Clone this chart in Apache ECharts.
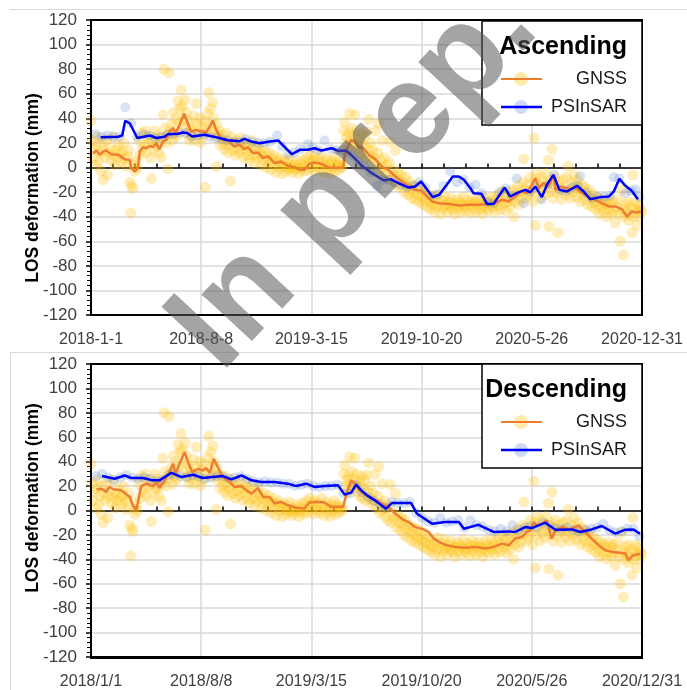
<!DOCTYPE html>
<html><head><meta charset="utf-8">
<script src="https://cdn.jsdelivr.net/npm/echarts@6/dist/echarts.min.js"></script>
<style>html,body{margin:0;padding:0;background:#fff}#c{width:687px;height:690px}</style>
</head><body><div id="c"></div>
<script>
// x positions are days since 2018-01-01
const xLabelsA = ['2018-1-1','2018-8-8','2019-3-15','2019-10-20','2020-5-26','2020-12-31'];
const xLabelsD = ['2018/1/1','2018/8/8','2019/3/15','2019/10/20','2020/5/26','2020/12/31'];
const yTicks = [-120,-100,-80,-60,-40,-20,0,20,40,60,80,100,120];
const panelTitles = ['Ascending','Descending'];
const seriesNames = ['GNSS','PSInSAR'];
const yTitle = 'LOS deformation (mm)';
const watermark = 'In prep.';

// GNSS daily observations [day, mm]
const gnssPts = [[0,38],[2,22],[4,8],[6,15],[9,2],[11,18],[13,25],[15,5],[18,12],[20,-3],[22,20],[24,-10],[26,14],[28,8],[31,22],[33,-6],[35,12],[38,16],[40,6],[43,25],[45,10],[48,2],[50,14],[53,8],[55,18],[58,11],[60,4],[63,13],[65,20],[68,7],[70,1],[73,9],[75,14],[77,-12],[79,-37],[81,-15],[83,-17],[85,2],[87,-3],[90,5],[92,0],
[95,22],[97,10],[100,28],[102,15],[105,18],[108,30],[110,12],[112,25],[115,20],[118,8],[120,-9],[122,22],[125,15],[127,30],[130,18],[132,26],[135,12],[137,20],[140,8],[142,24],[143,43],[145,80],[147,32],[150,20],[152,26],[153,-1],[155,77],
[157,30],[160,35],[162,22],[164,45],[166,28],[168,40],[170,25],[173,54],[175,36],[177,48],[179,63],[181,50],[183,40],[185,32],[187,55],[189,45],[191,28],[193,38],[195,22],[197,34],[199,26],[201,30],[204,42],[206,22],[209,52],[211,35],[213,28],[216,40],[218,20],[220,33],[222,25],[225,38],[227,-16],[229,30],[232,44],[234,61],[236,35],[238,48],[240,28],[242,53],[244,40],[246,30],[249,1],[250,35],[252,25],[255,30],[257,18],
[260,26],[263,20],[265,15],[268,28],[270,22],[272,12],[275,18],[277,-11],[279,25],[282,14],[284,20],[287,10],[290,22],[292,16],[295,12],[297,24],[300,18],[303,8],[305,15],[308,20],[310,10],[313,18],[315,6],[318,14],[320,22],[323,10],[325,4],[328,15],[330,8],[333,18],[335,12],[338,2],[340,10],[343,6],[345,14],[348,0],[350,8],[353,12],[355,4],[358,-2],[360,7],[363,10],[365,2],[368,-4],[370,5],[373,8],[375,0],[378,3],[380,-5],[383,6],[385,1],[388,-3],[390,4],[393,-1],[395,7],[398,0],
[400,-4],[403,2],[405,-2],[408,5],[410,0],[413,-5],[415,3],[418,-1],[420,6],[423,-3],[425,2],[428,8],[430,-2],[433,4],[435,10],[438,1],[440,6],[443,-3],[445,8],[448,3],[450,0],[453,6],[455,-2],[458,10],[460,4],[463,-4],[465,2],[468,7],[470,-1],[473,3],[475,-5],[478,5],[480,0],[483,8],[485,-3],[488,2],[490,5],[493,-2],[495,3],[498,0],
[500,2],[502,30],[504,37],[506,20],[508,25],[510,15],[512,28],[514,44],[516,22],[518,32],[520,18],[522,26],[524,43],[526,20],[528,30],[530,15],[532,24],[534,12],[536,20],[538,28],[540,10],[542,18],[544,25],[546,8],[548,29],[550,15],[552,39],[554,10],[556,20],[558,5],[560,14],[562,8],[565,30],[567,2],[570,12],[572,36],[574,-2],[576,6],[578,22],[580,0],
[583,8],[585,-5],[588,2],[590,-8],[593,4],[595,21],[597,-10],[600,-2],[602,-6],[605,14],[607,-14],[610,-4],[612,-10],[615,-16],[617,-6],[620,-12],[622,-20],[625,-8],[627,-15],[630,-22],[632,-12],[635,-18],[637,-25],[640,-14],[642,-20],[645,-26],[647,-15],[650,-22],[652,-28],[655,-18],[657,-24],[660,-30],[662,-20],[665,-26],[668,-32],[670,-22],[673,-28],[675,-34],[678,-24],
[680,-30],[683,-36],[685,-26],[688,-32],[690,-22],[693,-30],[695,-38],[698,-27],[700,-33],[703,-24],[705,-31],[708,-36],[710,-28],[713,-32],[715,-25],[718,-34],[720,-29],[723,-38],[725,-30],[728,-26],[730,-33],[733,-28],[735,-36],[738,-30],[740,-24],[743,-32],[745,-35],[748,-27],[750,-31],[753,-37],[755,-29],[758,-25],[760,-33],[763,-28],[765,-36],[768,-30],[770,-26],[773,-34],[775,-29],[778,-38],[780,-31],[783,-25],[785,-33],[788,-28],[790,-35],[793,-30],[795,-24],[798,-32],
[800,-28],[803,-36],[805,-25],[808,-31],[810,-22],[813,-34],[815,-27],[818,-20],[820,-30],[823,-24],[825,-35],[828,-28],[830,-20],[833,-32],[835,-25],[838,-18],[840,-40],[842,-28],[845,-22],[848,-15],[850,-30],[853,-20],[855,-26],[858,-12],[860,7],[862,-18],[865,-25],[868,-14],[870,-22],[873,-8],[875,-18],[878,-28],[880,24],[882,-10],[883,-47],[885,-20],[887,-5],[890,-15],[892,-25],[895,-8],[897,-18],[900,-12],
[902,-22],[905,-5],[907,-15],[909,6],[910,-48],[912,-20],[915,-10],[916,15],[918,-25],[920,-14],[923,-8],[925,-20],[928,-53],[930,-12],[933,-18],[935,-26],[938,-10],[940,-16],[943,-22],[945,-8],[948,1],[950,-18],[953,-25],[955,-12],[958,-20],[960,-6],[962,-15],[965,-24],[967,-10],[970,-18],[972,-28],[975,-14],[977,-22],[980,-16],[982,-26],[985,-20],[987,-30],[990,-18],[993,-25],[995,-32],
[998,-22],[1000,-28],[1003,-34],[1005,-24],[1008,-30],[1010,-38],[1013,-26],[1015,-33],[1018,-28],[1020,-36],[1023,-30],[1025,-40],[1028,-26],[1030,-34],[1033,-30],[1035,-38],[1038,-28],[1040,-35],[1042,-45],[1045,-32],[1047,-26],[1050,-38],[1052,-60],[1055,-18],[1057,-34],[1058,-71],[1060,-40],[1062,-30],[1065,-36],[1067,-28],[1068,-43],[1070,-38],[1072,-32],[1075,-53],[1077,-6],[1078,-40],[1080,-34],[1082,-28],[1085,-47],[1087,-36],[1088,-30],[1090,-40],[1092,-34],[1094,-36]];

// GNSS smoothed lines
const gnssLineA = [[4,11.7],[11,13.8],[17,10.3],[24,13],[30,13.8],[40,10.8],[54,10.3],[67,6.8],[77,6.2],[80,-0.5],[87,-3.3],[93,-0.5],[97,13],[103,16.5],[110,15.7],[117,17.6],[123,16.5],[130,19.8],[136,14.9],[143,21.2],[150,22.5],[156,29.3],[163,32],[168,28],[176,34.7],[185,43.7],[191,37.4],[199,29.3],[209,30.6],[219,29.3],[229,28.5],[234,32],[242,38.2],[249,30.6],[259,23],[272,22],[285,17],[295,18.4],[305,14.9],[312,16.5],[322,11.7],[332,12.2],[342,7.6],[352,9],[365,3.5],[378,4.9],[391,1.4],[405,0.3],[415,-1.9],[424,-1.9],[434,3],[444,4],[458,3],[471,0.3],[487,-0.5],[501,0],[505,11.7],[517,22.5],[524,21],[534,15.7],[538,16.5],[544,14.4],[552,10.3],[565,6.8],[578,0.8],[591,-1.9],[605,-7.3],[618,-11.4],[631,-15.5],[644,-18.2],[656,-18.7],[668,-23.6],[678,-27.7],[691,-29],[711,-29.6],[731,-30.9],[750,-30.4],[770,-30.4],[790,-29.6],[803,-29],[817,-26.3],[830,-27.7],[843,-23.6],[856,-19.5],[866,-20.9],[876,-14.1],[883,-8.7],[890,-16.8],[899,-12.7],[909,-15.5],[919,-6],[923,-18.2],[936,-15.5],[949,-17.6],[962,-16.3],[976,-20.9],[989,-23.6],[1002,-26.3],[1015,-29],[1029,-31.7],[1042,-31.7],[1055,-33.9],[1065,-39.9],[1075,-35.8],[1085,-36.6],[1094,-35.8]];
const gnssLineD = [[11,17.4],[21,17.9],[30,15.2],[37,19.3],[44,17.4],[60,16.5],[77,11.1],[83,4.3],[90,0.3],[100,20],[110,22],[123,20],[130,23.3],[136,18.4],[146,24.7],[156,31.5],[163,38.2],[168,30.1],[176,38.2],[186,47.7],[193,39.6],[201,31.5],[213,34.2],[222,32.8],[229,34.7],[236,30.9],[244,42.3],[252,35.5],[262,27.4],[276,23.3],[285,19.3],[299,20],[309,16.5],[319,13.8],[332,18.4],[342,11.1],[355,11.1],[365,5.7],[378,7.1],[391,4.3],[408,2.2],[424,1.6],[434,6.5],[451,7.1],[464,6.5],[477,3],[501,3],[507,12.5],[517,24.7],[527,21.2],[537,15.2],[545,13],[555,10.8],[572,6.8],[591,2.7],[605,-2.7],[618,-6.8],[631,-9.5],[644,-13.6],[658,-14.9],[671,-17.6],[681,-23],[694,-26.3],[707,-28.5],[724,-29.8],[744,-30.6],[764,-29.8],[784,-31.2],[800,-29.8],[817,-27.1],[830,-28.5],[843,-23],[856,-21.7],[866,-17.6],[873,-16.3],[880,-9.5],[886,-12.2],[896,-10.8],[906,-8.1],[915,-23],[923,-16.3],[936,-13.6],[952,-15.5],[969,-12.2],[982,-17.6],[995,-23],[1009,-28.5],[1022,-32.5],[1035,-33.9],[1048,-34.4],[1062,-35.3],[1068,-40.7],[1078,-36.6],[1092,-35.3]];

// PSInSAR observations
const psPtsA = [[9,27],[21,25],[33,26],[45,25],[57,25],[68,49],[80,36],[92,25],[104,27],[116,26],[128,24],[140,25],[152,27],[164,27],[176,28],[188,28],[200,25],[212,26],[224,27],[236,25],[248,24],[260,23],[272,22],[284,21],[296,21],[308,23],[320,21],[332,20],[344,20],[356,21],[370,26],[380,17],[392,11],[404,12],[416,15],[431,19],[440,16],[452,14],[464,22],[476,15],[488,14],[500,14],[507,12],[519,10],[531,5],[543,1],[555,-4],[568,-15],[580,-10],[592,-10],[604,-12],[616,-14],[628,-16],[640,-15],[652,-12],[664,-16],[676,-23],[688,-22],[700,-15],[714,-3],[727,-12],[740,-10],[752,-16],[764,-14],[776,-21],[788,-28],[800,-29],[812,-20],[824,-17],[836,-23],[846,-9],[860,-29],[872,-20],[884,-16],[896,-26],[908,-14],[920,-6],[932,-18],[944,-19],[956,-16],[968,-15],[972,-7],[984,-21],[996,-25],[1008,-24],[1020,-24],[1032,-23],[1039,-8],[1050,-9],[1062,-21],[1074,-19],[1082,-18],[1090,-24]];
const psPtsD = [[10,28],[22,30],[34,27],[46,25],[58,27],[70,29],[82,27],[94,26],[106,27],[118,26],[130,24],[142,25],[154,29],[166,30],[178,28],[190,27],[202,29],[214,28],[226,26],[238,27],[250,28],[262,28],[274,26],[286,27],[298,28],[310,26],[322,24],[334,23],[346,24],[358,23],[370,23],[382,22],[394,22],[406,20],[418,21],[430,22],[442,20],[454,19],[466,20],[478,20],[490,21],[502,14],[514,14],[526,21],[538,15],[550,11],[562,8],[574,5],[586,2],[598,7],[610,6],[622,6],[634,7],[646,-2],[658,-6],[670,-9],[682,-10],[694,-6],[706,-10],[718,-9],[730,-8],[742,-14],[754,-8],[766,-12],[778,-13],[790,-16],[802,-17],[814,-15],[826,-17],[838,-12],[850,-16],[862,-14],[874,-13],[886,-14],[898,-10],[910,-12],[922,-15],[934,-15],[946,-14],[958,-16],[970,-17],[982,-16],[994,-15],[1006,-14],[1018,-11],[1030,-16],[1042,-18],[1054,-17],[1066,-15],[1078,-15],[1090,-21]];
// PSInSAR smoothed lines
const psLineA = [[19,24.7],[54,25],[62,26],[68,38],[77,36],[92,24],[117,26],[130,24],[146,25],[153,27],[173,27.4],[183,28.5],[191,28],[201,25.2],[226,26.6],[239,25.5],[259,23.6],[272,22.2],[295,21.4],[305,23.3],[318,21.2],[335,19.8],[355,21.2],[372,22],[385,16.5],[399,10.8],[415,14.4],[431,14.4],[444,15.7],[458,13.8],[478,15.7],[491,13.6],[507,13.6],[517,10.3],[530,5],[538,1.4],[550,-2],[558,-4.6],[582,-10.6],[595,-9.5],[611,-12.7],[631,-16.3],[644,-15.5],[656,-11.4],[666,-16.8],[679,-24.1],[692,-22.2],[707,-14.1],[719,-7.3],[731,-7.3],[741,-10],[754,-16.8],[760,-20.9],[776,-21.4],[787,-29.6],[800,-29.6],[822,-16.3],[833,-23.6],[850,-20],[863,-18.2],[873,-20.3],[883,-15.5],[896,-24.1],[907,-13.3],[919,-6],[931,-18.2],[946,-19.5],[966,-14.9],[979,-19.5],[992,-25.8],[1012,-24.1],[1029,-23.6],[1039,-19.5],[1050,-9.2],[1062,-14.9],[1074,-18.7],[1087,-25.8]];
const psLineD = [[22,28.2],[47,26],[67,28.7],[80,26.6],[103,26.6],[123,24.7],[136,24.7],[160,30.9],[180,27.4],[203,29.3],[222,26.6],[242,27.4],[262,28.2],[279,25.5],[299,28.7],[319,24.7],[338,23.3],[365,23.3],[391,22],[408,20],[428,22],[444,19.3],[464,20],[491,20.6],[504,13],[517,14.6],[527,21.2],[537,16.5],[550,12],[565,8.1],[586,1.4],[598,6.2],[636,6.2],[648,-2.7],[678,-10.8],[704,-9.5],[731,-9.5],[741,-14.9],[770,-11.7],[800,-17.6],[830,-17.1],[843,-17.6],[863,-13.6],[876,-14.4],[903,-10],[923,-15.7],[956,-15.5],[972,-17.6],[995,-15.5],[1015,-12.7],[1042,-19],[1062,-15.7],[1078,-15.5],[1091,-19]];

const FONT = '"Liberation Sans", Arial, sans-serif';
const GNSS_DOT = 'rgba(255,192,0,0.33)';
const PS_DOT = 'rgba(68,114,196,0.26)';
const ORANGE = '#ED7D31';
const BLUE = '#0000FF';
const DAYS = 1095, STEP = 219;

const chart = echarts.init(document.getElementById('c'), null, {renderer:'canvas'});

const grids = [
  {left:91, top:20, width:551, height:295},
  {left:91, top:364, width:551, height:294}
];
const labelSets = [xLabelsA, xLabelsD];
const xAxes = [], yAxes = [], series = [];
grids.forEach((g, i) => {
  const labels = labelSets[i];
  xAxes.push({
    gridIndex:i, type:'value', min:0, max:DAYS, interval:STEP, position:'bottom',
    axisLine:{show:true, onZero:false, lineStyle:{color:'#000', width:2}},
    axisTick:{show:false},
    axisLabel:{fontFamily:FONT, fontSize:16, color:'#404040', margin:17,
      formatter:(v)=>labels[Math.round(v/STEP)] ?? ''},
    splitLine:{show:true, lineStyle:{color:'#d9d9d9', width:1.5}}
  });
  xAxes.push({
    gridIndex:i, type:'value', min:0, max:DAYS, interval:STEP/5, position:'bottom',
    axisLine:{show:true, onZero:true, lineStyle:{color:'#000', width:1.5}},
    axisTick:{show:true, inside:true, length:4, lineStyle:{color:'#000', width:1.5}},
    axisLabel:{show:false}, splitLine:{show:false}
  });
  yAxes.push({
    gridIndex:i, type:'value', min:yTicks[0], max:yTicks[yTicks.length-1], interval:20,
    axisLine:{show:true, onZero:false, lineStyle:{color:'#000', width:2}},
    axisTick:{show:true, length:5, lineStyle:{color:'#000', width:1.5}},
    minorTick:{show:true, splitNumber:5, length:4, lineStyle:{color:'#000', width:1}},
    axisLabel:{fontFamily:FONT, fontSize:17, color:'#404040', margin:14},
    splitLine:{show:true, lineStyle:{color:'#d9d9d9', width:1.5}}
  });
  const gLine = i===0 ? gnssLineA : gnssLineD;
  const pPts = i===0 ? psPtsA : psPtsD;
  const pLine = i===0 ? psLineA : psLineD;
  series.push(
    {type:'scatter', name:seriesNames[0]+' obs', xAxisIndex:2*i, yAxisIndex:i, data:gnssPts, symbolSize:11,
      itemStyle:{color:GNSS_DOT}, silent:true, z:2},
    {type:'scatter', name:seriesNames[1]+' obs', xAxisIndex:2*i, yAxisIndex:i, data:pPts, symbolSize:10,
      itemStyle:{color:PS_DOT}, silent:true, z:3},
    {type:'line', name:seriesNames[0], xAxisIndex:2*i, yAxisIndex:i, data:gLine, showSymbol:false,
      lineStyle:{color:ORANGE, width:2.5}, silent:true, z:4},
    {type:'line', name:seriesNames[1], xAxisIndex:2*i, yAxisIndex:i, data:pLine, showSymbol:false,
      lineStyle:{color:BLUE, width:2.5}, silent:true, z:5}
  );
});

function legendBlock(dy, title) {
  return [
    {type:'rect', shape:{x:482, y:21+dy, width:160, height:104}, style:{fill:'#fff', stroke:'#000', lineWidth:1.5}, z:100},
    {type:'text', x:627, y:47+dy, style:{text:title, font:'bold 25px '+FONT, fill:'#000', textAlign:'right', textVerticalAlign:'middle'}, z:101},
    {type:'circle', shape:{cx:521, cy:79+dy, r:7}, style:{fill:GNSS_DOT}, z:101},
    {type:'line', shape:{x1:501, y1:79+dy, x2:542, y2:79+dy}, style:{stroke:ORANGE, lineWidth:2}, z:102},
    {type:'text', x:627, y:79+dy, style:{text:seriesNames[0], font:'18px '+FONT, fill:'#1a1a1a', textAlign:'right', textVerticalAlign:'middle'}, z:101},
    {type:'circle', shape:{cx:521, cy:107+dy, r:7}, style:{fill:PS_DOT}, z:101},
    {type:'line', shape:{x1:501, y1:107+dy, x2:542, y2:107+dy}, style:{stroke:BLUE, lineWidth:2.5}, z:102},
    {type:'text', x:627, y:107+dy, style:{text:seriesNames[1], font:'18px '+FONT, fill:'#1a1a1a', textAlign:'right', textVerticalAlign:'middle'}, z:101}
  ];
}

const graphic = [
  {type:'line', shape:{x1:10, y1:9.5, x2:687, y2:9.5}, style:{stroke:'#d9d9d9', lineWidth:1}, z:0},
  {type:'line', shape:{x1:10, y1:352.5, x2:687, y2:352.5}, style:{stroke:'#d9d9d9', lineWidth:1}, z:0},
  {type:'line', shape:{x1:10.5, y1:352, x2:10.5, y2:690}, style:{stroke:'#d9d9d9', lineWidth:1}, z:0},
  {type:'rect', shape:{x:91, y:20, width:551, height:295}, style:{fill:'none', stroke:'#000', lineWidth:2}, z:50},
  {type:'rect', shape:{x:91, y:364, width:551, height:294}, style:{fill:'none', stroke:'#000', lineWidth:2}, z:50},
  {type:'text', x:33, y:188, rotation:Math.PI/2, style:{text:yTitle, font:'bold 17.5px '+FONT, fill:'#000', textAlign:'center', textVerticalAlign:'middle'}, z:60},
  {type:'text', x:33, y:498, rotation:Math.PI/2, style:{text:yTitle, font:'bold 17.5px '+FONT, fill:'#000', textAlign:'center', textVerticalAlign:'middle'}, z:60},
  ...legendBlock(0, panelTitles[0]),
  ...legendBlock(343, panelTitles[1]),
  {type:'text', x:355, y:178, rotation:47*Math.PI/180, style:{text:watermark, font:'bold 130px '+FONT, fill:'rgba(90,90,90,0.55)', textAlign:'center', textVerticalAlign:'middle'}, z:200}
];

chart.setOption({
  animation:false,
  backgroundColor:'#fff',
  grid:grids.map(g=>Object.assign({containLabel:false}, g)),
  xAxis:xAxes, yAxis:yAxes, series, graphic
});
</script></body></html>
